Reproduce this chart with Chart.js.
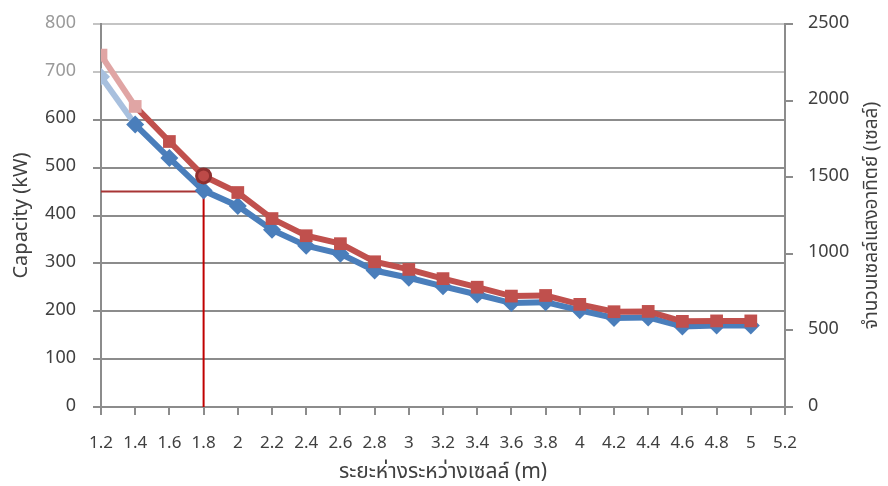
<!DOCTYPE html>
<html>
<head>
<meta charset="utf-8">
<script src="https://cdn.jsdelivr.net/npm/chart.js@4/dist/chart.umd.min.js"></script>
<style>
  html, body { margin: 0; padding: 0; background: #fff; }
  #wrap { width: 888px; height: 486px; }
</style>
</head>
<body>
<div id="wrap"><canvas id="myChart" width="888" height="486"></canvas></div>
<script>
// ระยะห่างระหว่างเซลล์ (m)
const spacing = [1.2, 1.4, 1.6, 1.8, 2.0, 2.2, 2.4, 2.6, 2.8, 3.0, 3.2, 3.4, 3.6, 3.8, 4.0, 4.2, 4.4, 4.6, 4.8, 5.0];
// capacity in kW (left axis)
const capacity = [690, 590, 520, 452, 420, 370, 337, 320, 285, 270, 252, 235, 217, 219, 202, 186, 187, 168, 170, 170];
// number of solar cells (right axis)
const cells = [2297, 1962, 1733, 1508, 1400, 1230, 1118, 1066, 948, 898, 838, 782, 724, 728, 670, 622, 624, 559, 562, 562];
// selected point + guide lines
const pick = { x: 1.8, cap: 450, cell: 1508, top: 478 };
const xTicks = [1.2, 1.4, 1.6, 1.8, 2, 2.2, 2.4, 2.6, 2.8, 3, 3.2, 3.4, 3.6, 3.8, 4, 4.2, 4.4, 4.6, 4.8, 5, 5.2];
const rightTitleText = 'จำนวนเซลล์แสงอาทิตย์ (เซลล์)';

const blue = '#4a7ebb', red = '#c0504d';
const blueFade = '#a8c0de', redFade = '#e0a5a4';
const fontFam = "'Noto Sans Thai', 'Noto Sans', 'DejaVu Sans', sans-serif";

// right axis title reads bottom-to-top, like the left one
const rightTitle = {
    id: 'rightTitle',
    afterDraw(chart) {
        const c = chart.ctx, a = chart.chartArea;
        c.save();
        c.translate(chart.width - 15, (a.top + a.bottom) / 2);
        c.rotate(-Math.PI / 2);
        c.font = '19px ' + fontFam;
        c.fillStyle = '#404040';
        c.textAlign = 'center';
        c.textBaseline = 'middle';
        c.fillText(rightTitleText, 0, 0);
        c.restore();
    }
};

// fixed box sizes so the plot area sits where the original does
function fixY(width) {
    return s => { s.width = width; s.paddingTop = 0; s.paddingBottom = 0; };
}

const ctx = document.getElementById('myChart').getContext('2d');
new Chart(ctx, {
    type: 'line',
    data: {
        datasets: [
            {
                label: 'h',
                data: [{ x: spacing[0], y: pick.cap }, { x: pick.x, y: pick.cap }],
                yAxisID: 'y',
                borderColor: '#a83535',
                borderWidth: 2,
                pointRadius: 0,
                order: 5
            },
            {
                label: 'v',
                data: [{ x: pick.x, y: 0 }, { x: pick.x, y: pick.top }],
                yAxisID: 'y',
                borderColor: '#c00000',
                borderWidth: 2,
                pointRadius: 0,
                order: 5
            },
            {
                label: 'Capacity',
                data: spacing.map((x, i) => ({ x: x, y: capacity[i] })),
                yAxisID: 'y',
                borderColor: blue,
                borderWidth: 6,
                segment: { borderColor: c => c.p0DataIndex === 0 ? blueFade : blue },
                pointStyle: 'rectRot',
                pointRadius: 9,
                pointBackgroundColor: spacing.map((x, i) => i === 0 ? blueFade : blue),
                pointBorderWidth: 0,
                tension: 0,
                order: 3
            },
            {
                label: 'Cells',
                data: spacing.map((x, i) => ({ x: x, y: cells[i] })),
                yAxisID: 'y1',
                borderColor: red,
                borderWidth: 6,
                segment: { borderColor: c => c.p0DataIndex === 0 ? redFade : red },
                pointStyle: 'rect',
                pointRadius: 9,
                pointBackgroundColor: spacing.map((x, i) => i < 2 ? redFade : red),
                pointBorderWidth: 0,
                tension: 0,
                order: 2
            },
            {
                label: 'pick',
                data: [{ x: pick.x, y: pick.cell }],
                yAxisID: 'y1',
                showLine: false,
                pointRadius: 7,
                pointBackgroundColor: '#bd4a48',
                pointBorderColor: '#8e2f2f',
                pointBorderWidth: 3,
                order: 1
            }
        ]
    },
    options: {
        responsive: false,
        animation: false,
        layout: { padding: { top: 24, bottom: 0, left: 0, right: 0 } },
        plugins: { legend: { display: false }, tooltip: { enabled: false } },
        scales: {
            x: {
                type: 'linear',
                min: 1.2,
                max: 5.2,
                afterBuildTicks: s => { s.ticks = xTicks.map(v => ({ value: v })); },
                ticks: {
                    color: '#404040',
                    font: { family: fontFam, size: 17 },
                    padding: 19,
                    maxRotation: 0,
                    autoSkip: false,
                    callback: v => String(Math.round(v * 10) / 10)
                },
                grid: { drawOnChartArea: false, tickLength: 8, color: '#8c8c8c', lineWidth: 2 },
                border: { color: '#8c8c8c', width: 2 },
                title: {
                    display: true,
                    text: 'ระยะห่างระหว่างเซลล์ (m)',
                    color: '#404040',
                    font: { family: fontFam, size: 21 },
                    padding: { top: -4, bottom: 0 }
                },
                afterFit: s => { s.height = 79; s.paddingLeft = 0; s.paddingRight = 0; }
            },
            y: {
                position: 'left',
                min: 0,
                max: 800,
                ticks: {
                    stepSize: 100,
                    color: c => c.tick && c.tick.value >= 700 ? '#9a9a9a' : '#404040',
                    font: { family: fontFam, size: 18 },
                    padding: 17
                },
                grid: {
                    color: c => c.tick && c.tick.value >= 700 ? '#c4c4c4' : '#8c8c8c',
                    lineWidth: 2,
                    tickLength: 8
                },
                border: { color: '#8c8c8c', width: 2 },
                title: {
                    display: true,
                    text: 'Capacity (kW)',
                    color: '#404040',
                    font: { family: fontFam, size: 20 },
                    padding: { top: 11, bottom: 4 }
                },
                afterFit: fixY(101)
            },
            y1: {
                position: 'right',
                min: 0,
                max: 2500,
                ticks: {
                    stepSize: 500,
                    color: '#404040',
                    font: { family: fontFam, size: 18 },
                    padding: 15,
                    callback: v => String(v)
                },
                grid: { drawOnChartArea: false, tickLength: 8, color: '#8c8c8c', lineWidth: 2 },
                border: { color: '#8c8c8c', width: 2 },
                afterFit: fixY(103)
            }
        }
    },
    plugins: [rightTitle]
});
</script>
</body>
</html>
